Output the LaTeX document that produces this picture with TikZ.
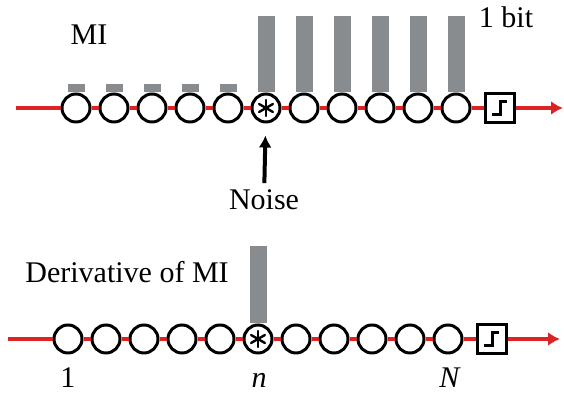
\documentclass[tikz,border=0pt]{standalone}
\usepackage{fontspec}
\setmainfont{Liberation Serif}
\usepackage{xcolor}
\definecolor{wirered}{RGB}{221, 36, 36}
\definecolor{bargray}{RGB}{136,140,143}
\usetikzlibrary{positioning,arrows.meta,calc}

\begin{document}
\begin{tikzpicture}[
  x=0.5pt, y=0.5pt,
  font=\fontsize{15}{18}\selectfont,
  cell/.style={circle, draw, fill=white, line width=1.5pt,
               minimum size=14pt, inner sep=0pt},
  switch/.style={draw, fill=white, line width=1.4pt,
                 minimum size=14.3pt, inner sep=0pt},
  bar/.style={fill=bargray, minimum width=8.5pt, inner sep=0pt, anchor=south},
  wire/.style={wirered, line width=2pt},
  wirearrow/.style={wire, -{Latex[length=6pt,width=7pt]}},
  noisearrow/.style={-{Latex[length=6pt,width=6.5pt]}, line width=2pt,
                     shorten >=6pt},
  spoke/.style={line width=1.2pt, line cap=round},
  stepline/.style={line width=1.5pt}
]
\useasboundingbox (0,0) rectangle (564,395);

%% Top chain: mutual information
\coordinate (tin) at (16,287);
\coordinate (tout) at (563,287);
\foreach \i in {1,...,11}
  \node (t\i) [cell] at ({76+38*(\i-1)},287) {};
\node (tsw) [switch] at (500,287) {};

%% Bars above the top chain
\foreach \i in {1,...,5}
  \node (tbar\i) [bar, minimum height=4pt] at (t\i.north) {};
\foreach \i in {6,...,11}
  \node (tbar\i) [bar, minimum height=38pt] at (t\i.north) {};

%% Bottom chain: derivative
\coordinate (bin) at (8,56);
\coordinate (bout) at (560,56);
\foreach \i in {1,...,11}
  \node (b\i) [cell] at ({68+38*(\i-1)},56) {};
\node (bsw) [switch] at (492,56) {};
\node (bbar) [bar, minimum height=38.5pt] at (b6.north) {};

%% Red wires
\draw [wire] (tin) -- (t1);
\draw [wire] (bin) -- (b1);
\foreach \i [evaluate=\i as \j using int(\i+1)] in {1,...,10} {
  \draw [wire] (t\i) -- (t\j);
  \draw [wire] (b\i) -- (b\j);
}
\draw [wire] (t11) -- (tsw);
\draw [wire] (b11) -- (bsw);
\draw [wirearrow] (tsw) -- (tout);
\draw [wirearrow] (bsw) -- (bout);

%% Noise cells
\foreach \a in {30,90,...,330} {
  \draw [spoke] (t6.center) -- ++(\a:8);
  \draw [spoke] (b6.center) -- ++(\a:8);
}

%% Threshold steps
\draw [stepline] ($(tsw.center)+(-8,-7)$) -- ++(8,0) -- ++(0,13) -- ++(7,0);
\draw [stepline] ($(bsw.center)+(-8,-7)$) -- ++(8,0) -- ++(0,13) -- ++(7,0);

%% Labels
\node (mi) [anchor=base] at (89,350) {MI};
\node (onebit) [anchor=base] at (506,367) {1 bit};
\node (noise) [anchor=base] at (264,185) {Noise};
\draw [noisearrow] (noise) -- (t6);
\node (dmi) [anchor=base west, inner sep=0pt] at (25,112) {Derivative of MI};
\node (first) [anchor=base] at (68,7) {1};
\node (nth) [anchor=base] at (259,7) {\textit{n}};
\node (last) [anchor=base] at (450,7) {\textit{N}};

\end{tikzpicture}
\end{document}
